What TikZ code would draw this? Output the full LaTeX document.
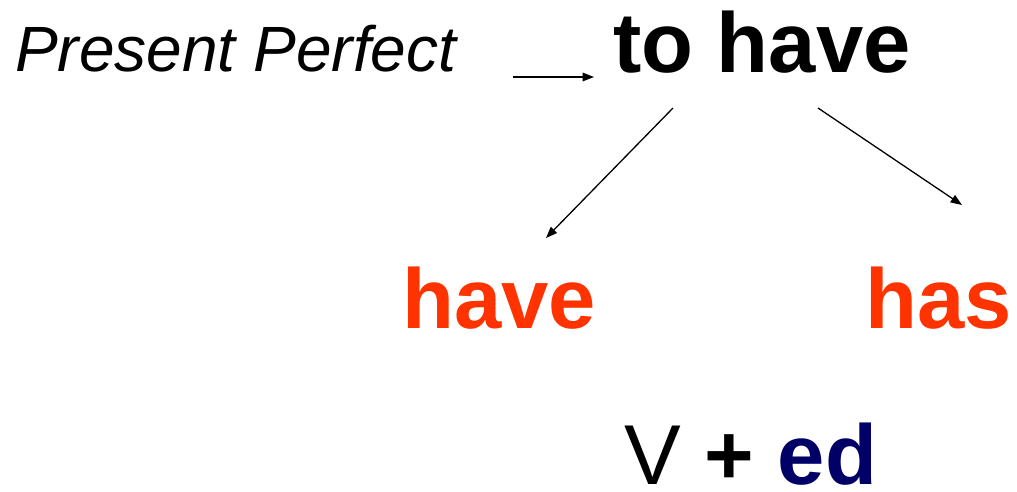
\documentclass[tikz,border=0pt]{standalone}
\usepackage{fontspec}
\setmainfont{Liberation Sans}
\usetikzlibrary{arrows.meta}
\definecolor{verbred}{HTML}{FF3300}
\definecolor{endnavy}{HTML}{000066}

\begin{document}
\begin{tikzpicture}[
  x=1pt, y=-1pt,
  word/.style={anchor=base west, inner sep=0pt, font=\fontsize{85}{90}\selectfont\bfseries},
  tense/.style={anchor=base west, inner sep=0pt, font=\fontsize{64}{70}\selectfont\itshape},
  ar/.style={-{Triangle[length=4mm, width=3mm]}, line width=1.3pt}
]
\useasboundingbox (0,0) rectangle (1017,491);

\node[tense] (tense) at (15,71) {Present Perfect};
\node[word] (aux) at (613,72) {to have};
\node[word, text=verbred] (have) at (402,328) {have};
\node[word, text=verbred] (has) at (865,328) {has};
\node[word, font=\fontsize{85}{90}\selectfont] (form) at (624,484) {V \textbf{+} \textbf{\color{endnavy}ed}};

\coordinate (tense-e) at (513,77);
\coordinate (aux-w) at (594,77);
\coordinate (aux-sw) at (673,108);
\coordinate (aux-se) at (818,108);
\coordinate (have-n) at (546,238);
\coordinate (has-n) at (962,205);

\draw[ar] (tense-e) -- (aux-w);
\draw[ar] (aux-sw) -- (have-n);
\draw[ar] (aux-se) -- (has-n);
\end{tikzpicture}
\end{document}
